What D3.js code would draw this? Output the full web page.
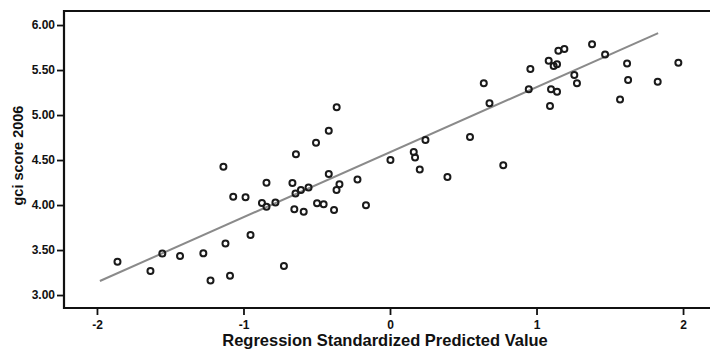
<!DOCTYPE html>
<html>
<head>
<meta charset="utf-8">
<script src="https://cdn.jsdelivr.net/npm/d3@7"></script>
<style>
  body { margin: 0; background: #fff; }
  #chart text { font-family: "Liberation Sans", Arial, sans-serif; fill: #111; }
  .axis path { display: none; }
  .axis line { stroke: #111; stroke-width: 1.8; }
</style>
</head>
<body>
<div id="chart"></div>
<script>
// regression standardized predicted value (x) vs gci score 2006 (y)
let predVal = [-1.86, -1.635, -1.554, -1.433, -1.274, -1.225, -1.092, -1.123, -0.952, -0.724,
    -1.137, -1.07, -0.986, -0.874, -0.843, -0.782, -0.843, -0.666, -0.642, -0.645,
    -0.608, -0.556, -0.653, -0.589, -0.498, -0.453, -0.382, -0.345, -0.365, -0.222,
    -0.164, -0.418, -0.505, -0.418, -0.364, 0.003, 0.162, 0.171, 0.242, 0.203,
    0.392, 0.546, 0.679, 0.64, 0.773, 0.958, 0.947, 1.083, 1.117, 1.14,
    1.149, 1.19, 1.092, 1.099, 1.14, 1.258, 1.276, 1.379, 1.468, 1.618,
    1.625, 1.57, 1.827, 1.968];
let gciScore = [3.37, 3.267, 3.461, 3.433, 3.463, 3.161, 3.214, 3.574, 3.667, 3.322,
    4.426, 4.092, 4.086, 4.022, 3.981, 4.028, 4.248, 4.244, 4.563, 4.128,
    4.167, 4.194, 3.952, 3.926, 4.019, 4.008, 3.944, 4.231, 4.167, 4.283,
    3.998, 4.344, 4.691, 4.826, 5.086, 4.5, 4.589, 4.528, 4.722, 4.394,
    4.311, 4.756, 5.13, 5.352, 4.441, 5.511, 5.286, 5.603, 5.544, 5.563,
    5.714, 5.733, 5.1, 5.286, 5.259, 5.444, 5.352, 5.786, 5.674, 5.574,
    5.389, 5.174, 5.37, 5.581];

// fitted line end points
let fitX = [-1.98, 1.83];
let fitY = [3.156, 5.91];

let yTicks = [3.0, 3.5, 4.0, 4.5, 5.0, 5.5, 6.0];
let xTicks = [-2, -1, 0, 1, 2];
let xTickLabels = ["-2", "-1", "0", "1", "2"];

let margin = { top: 11, right: 0, bottom: 41, left: 64 },
    width = 710 - margin.left - margin.right,
    height = 349 - margin.top - margin.bottom;

let svg = d3.select("#chart")
    .append("svg")
    .attr("width", 710)
    .attr("height", 349)
    .append("g")
    .attr("transform", "translate(" + margin.left + "," + margin.top + ")");

let x = d3.scaleLinear()
    .domain([-2.225, 2.184])
    .range([0, width]);

let y = d3.scaleLinear()
    .domain([2.856, 6.156])
    .range([height, 0]);

// X axis
let gx = svg.append("g")
    .attr("class", "axis")
    .attr("transform", "translate(0," + height + ")")
    .call(d3.axisBottom(x).tickValues(xTicks).tickSize(7).tickSizeOuter(0)
        .tickFormat(function (d, i) { return xTickLabels[i]; }));
gx.selectAll("text").attr("font-size", 12).attr("font-weight", "bold").attr("dy", "0.9em");

// Y axis
let gy = svg.append("g")
    .attr("class", "axis")
    .call(d3.axisLeft(y).tickValues(yTicks).tickSize(7).tickSizeOuter(0).tickFormat(d3.format(".2f")));
gy.selectAll("text").attr("font-size", 12).attr("font-weight", "bold").attr("x", -9);

// frame (right side runs off the picture)
svg.append("path")
    .attr("fill", "none")
    .attr("stroke", "#111")
    .attr("stroke-width", 2.2)
    .attr("d", "M" + (width + 2) + ",0H0V" + height + "H" + (width + 2));

// regression line
svg.append("line")
    .attr("x1", x(fitX[0]))
    .attr("y1", y(fitY[0]))
    .attr("x2", x(fitX[1]))
    .attr("y2", y(fitY[1]))
    .attr("stroke", "#8a8a8a")
    .attr("stroke-width", 2);

// points
svg.selectAll("circle.pt")
    .data(predVal)
    .enter()
    .append("circle")
    .attr("class", "pt")
    .attr("cx", function (d) { return x(d); })
    .attr("cy", function (d, i) { return y(gciScore[i]); })
    .attr("r", 3)
    .attr("fill", "none")
    .attr("stroke", "#1a1a1a")
    .attr("stroke-width", 2);

// axis titles
svg.append("text")
    .attr("x", 385 - margin.left)
    .attr("y", height + 38)
    .attr("text-anchor", "middle")
    .attr("font-size", 16.5)
    .attr("font-weight", "bold")
    .text("Regression Standardized Predicted Value");

svg.append("text")
    .attr("transform", "translate(" + (-41) + "," + (y(4.55)) + ") rotate(-90)")
    .attr("text-anchor", "middle")
    .attr("font-size", 14.5)
    .attr("font-weight", "bold")
    .text("gci score 2006");
</script>
</body>
</html>
